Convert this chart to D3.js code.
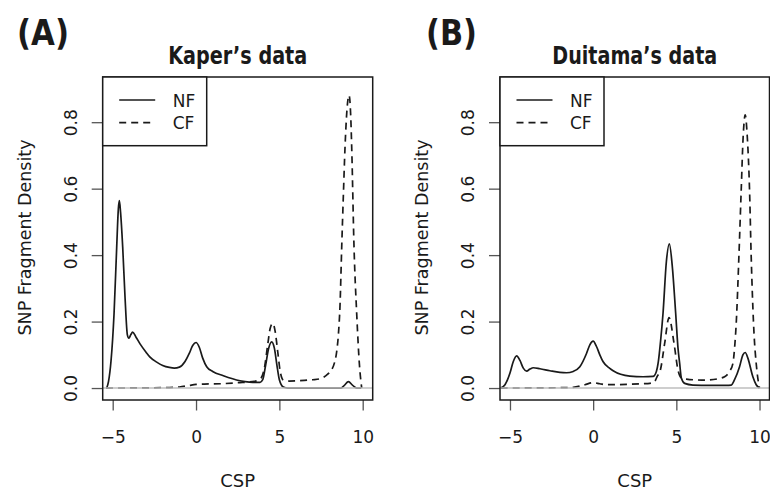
<!DOCTYPE html>
<html>
<head>
<meta charset="utf-8">
<script src="https://cdn.jsdelivr.net/npm/d3@7"></script>
<style>
  html, body { margin: 0; padding: 0; background: #fff; }
  svg { display: block; }
  text { font-family: "DejaVu Sans", sans-serif; fill: #1a1a1a; }
</style>
</head>
<body>
<svg id="chart" width="770" height="491"></svg>
<script>
// ---------- data ----------
const xTicks = [-5, 0, 5, 10];
const yTicks = [0.0, 0.2, 0.4, 0.6, 0.8];
const panelLabels = ["(A)", "(B)"];
const panelTitles = ["Kaper\u2019s data", "Duitama\u2019s data"];
const seriesNames = ["NF", "CF"];

const kaperNF = [[-5.36,0.0],[-5.25,0.02],[-5.1,0.082],[-4.92,0.223],[-4.76,0.424],[-4.66,0.54],[-4.6,0.564],[-4.53,0.53],[-4.4,0.424],[-4.26,0.273],[-4.12,0.16],[-4.03,0.15],[-3.92,0.16],[-3.8,0.168],[-3.6,0.153],[-3.36,0.133],[-3.0,0.108],[-2.76,0.093],[-2.36,0.078],[-2.0,0.068],[-1.6,0.062],[-1.3,0.06],[-1.0,0.063],[-0.66,0.08],[-0.4,0.105],[-0.2,0.128],[0.0,0.137],[0.2,0.122],[0.4,0.09],[0.64,0.064],[1.0,0.05],[1.64,0.037],[2.64,0.022],[3.2,0.018],[3.84,0.017],[4.0,0.025],[4.18,0.07],[4.35,0.118],[4.54,0.139],[4.7,0.12],[4.85,0.07],[5.0,0.025],[5.24,0.003],[5.5,0.0],[8.7,0.0],[8.9,0.008],[9.14,0.019],[9.4,0.008],[9.64,0.0],[9.9,0.0]];
const kaperCF = [[-5.4,0.0],[-2.0,0.001],[-1.0,0.003],[-0.4,0.008],[0.0,0.011],[0.5,0.012],[1.5,0.013],[2.5,0.016],[3.5,0.02],[3.9,0.03],[4.1,0.06],[4.3,0.13],[4.45,0.18],[4.6,0.195],[4.75,0.17],[4.9,0.11],[5.05,0.05],[5.24,0.024],[5.6,0.021],[6.5,0.023],[7.0,0.025],[7.44,0.028],[7.9,0.042],[8.14,0.055],[8.3,0.075],[8.44,0.11],[8.54,0.16],[8.64,0.25],[8.74,0.423],[8.84,0.58],[8.94,0.725],[9.06,0.84],[9.18,0.881],[9.28,0.82],[9.34,0.725],[9.48,0.423],[9.64,0.224],[9.8,0.073],[9.94,0.0]];
const duitamaNF = [[-5.56,0.0],[-5.3,0.01],[-5.0,0.045],[-4.8,0.08],[-4.6,0.097],[-4.4,0.083],[-4.2,0.06],[-4.0,0.051],[-3.8,0.057],[-3.6,0.061],[-3.2,0.058],[-2.6,0.052],[-2.0,0.047],[-1.6,0.046],[-1.2,0.05],[-0.8,0.064],[-0.4,0.104],[-0.2,0.13],[0.0,0.141],[0.2,0.125],[0.4,0.1],[0.6,0.079],[1.0,0.059],[1.2,0.052],[2.2,0.036],[3.0,0.034],[3.6,0.035],[3.8,0.05],[3.92,0.08],[4.05,0.14],[4.2,0.225],[4.4,0.38],[4.58,0.434],[4.75,0.37],[4.96,0.225],[5.1,0.12],[5.2,0.074],[5.3,0.03],[5.5,0.014],[6.0,0.009],[7.0,0.008],[8.0,0.008],[8.3,0.009],[8.5,0.025],[8.8,0.064],[9.0,0.1],[9.14,0.107],[9.3,0.09],[9.6,0.034],[9.8,0.01],[10.0,0.0]];
const duitamaCF = [[-5.56,0.0],[-2.0,0.001],[-1.2,0.002],[-0.5,0.01],[0.0,0.016],[0.4,0.013],[0.8,0.01],[2.0,0.011],[3.0,0.013],[3.4,0.014],[3.7,0.02],[3.85,0.035],[4.04,0.054],[4.3,0.135],[4.56,0.212],[4.86,0.135],[5.1,0.054],[5.3,0.031],[5.6,0.027],[6.5,0.024],[6.8,0.024],[7.5,0.028],[7.9,0.034],[8.2,0.05],[8.4,0.074],[8.5,0.12],[8.6,0.195],[8.76,0.395],[8.9,0.596],[9.02,0.76],[9.14,0.822],[9.26,0.76],[9.4,0.596],[9.5,0.395],[9.64,0.195],[9.84,0.054],[10.0,0.0]];

const xDomain = [-5.6, 10.6];
const yDomain = [-0.036, 0.936];

// ---------- layout ----------
const svg = d3.select("#chart");
const ink = "#1a1a1a";
const panels = [
  { left: 102.7, right: 372.7, nf: kaperNF, cf: kaperCF, labelX: 17, labelLen: 52, titleLen: 139 },
  { left: 500, right: 769.5, nf: duitamaNF, cf: duitamaCF, labelX: 426, labelLen: 51, titleLen: 165 }
];
const plotTop = 77, plotBottom = 400;

panels.forEach((p, i) => {
  const g = svg.append("g");
  const x = d3.scaleLinear().domain(xDomain).range([p.left, p.right]);
  const y = d3.scaleLinear().domain(yDomain).range([plotBottom, plotTop]);
  const cx = (p.left + p.right) / 2;

  const clipId = "clip" + i;
  svg.append("defs").append("clipPath").attr("id", clipId)
    .append("rect").attr("x", p.left).attr("y", plotTop)
    .attr("width", p.right - p.left).attr("height", plotBottom - plotTop);

  const line = d3.line().x(d => x(d[0])).y(d => y(d[1])).curve(d3.curveMonotoneX);
  const plot = g.append("g").attr("clip-path", `url(#${clipId})`);
  plot.append("path").datum(p.nf).attr("d", line)
    .attr("fill", "none").attr("stroke", ink).attr("stroke-width", 1.7);
  plot.append("path").datum(p.cf).attr("d", line)
    .attr("fill", "none").attr("stroke", ink).attr("stroke-width", 1.7)
    .attr("stroke-dasharray", "7,5");
  // grey zero line
  plot.append("line")
    .attr("x1", p.left).attr("x2", p.right)
    .attr("y1", y(0)).attr("y2", y(0))
    .attr("stroke", "#bebebe").attr("stroke-width", 1.5);

  // axes
  const xAxis = d3.axisBottom(x).tickValues(xTicks).tickSize(10.5).tickFormat(d => d < 0 ? "\u2212" + Math.abs(d) : d);
  const gx = g.append("g").attr("transform", `translate(0,${plotBottom})`).call(xAxis);
  gx.select(".domain").remove();
  gx.selectAll(".tick line").attr("stroke", "#555").attr("stroke-width", 1.3);
  gx.selectAll(".tick text").attr("font-size", 17).attr("font-family", "DejaVu Sans")
    .attr("fill", ink).attr("y", 0).attr("dy", null).attr("transform", "translate(0,43)");

  const yAxis = d3.axisLeft(y).tickValues(yTicks).tickSize(11).tickFormat(d3.format(".1f"));
  const gy = g.append("g").attr("transform", `translate(${p.left},0)`).call(yAxis);
  gy.select(".domain").remove();
  gy.selectAll(".tick line").attr("stroke", "#555").attr("stroke-width", 1.3);
  gy.selectAll(".tick text")
    .attr("font-size", 17).attr("font-family", "DejaVu Sans").attr("fill", ink)
    .attr("x", null).attr("dy", null).attr("y", null)
    .attr("text-anchor", "middle")
    .attr("transform", "translate(-26,0) rotate(-90)");

  // box
  g.append("rect").attr("x", p.left).attr("y", plotTop)
    .attr("width", p.right - p.left).attr("height", plotBottom - plotTop)
    .attr("fill", "none").attr("stroke", ink).attr("stroke-width", 1.5);

  // axis titles
  g.append("text").attr("x", cx).attr("y", 487).attr("text-anchor", "middle")
    .attr("font-size", 18).text("CSP");
  g.append("text").attr("text-anchor", "middle").attr("font-size", 17.5)
    .attr("transform", `translate(${p.left - 72},237.5) rotate(-90)`)
    .text("SNP Fragment Density");

  // title + panel label
  g.append("text").attr("x", cx).attr("y", 63.5).attr("text-anchor", "middle")
    .attr("font-size", 25).attr("font-weight", "bold")
    .attr("textLength", p.titleLen).attr("lengthAdjust", "spacingAndGlyphs")
    .text(panelTitles[i]);
  g.append("text").attr("x", p.labelX).attr("y", 44.5)
    .attr("font-size", 35).attr("font-weight", "bold")
    .attr("textLength", p.labelLen).attr("lengthAdjust", "spacingAndGlyphs")
    .text(panelLabels[i]);

  // legend
  const lg = g.append("g");
  lg.append("rect").attr("x", p.left).attr("y", plotTop).attr("width", 104).attr("height", 68.7)
    .attr("fill", "#fff").attr("stroke", ink).attr("stroke-width", 1.5);
  seriesNames.forEach((s, j) => {
    const ly = 100 + j * 22.7;
    lg.append("line").attr("x1", p.left + 16.5).attr("x2", p.left + 52.5)
      .attr("y1", ly).attr("y2", ly).attr("stroke", ink).attr("stroke-width", 1.7)
      .attr("stroke-dasharray", j === 1 ? "7,5" : null);
    lg.append("text").attr("x", p.left + 70).attr("y", ly + 6.5)
      .attr("font-size", 17).text(s);
  });
});
</script>
</body>
</html>
